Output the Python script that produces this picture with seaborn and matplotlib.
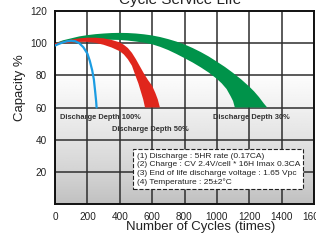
import numpy as np
import matplotlib
matplotlib.use("Agg")
import matplotlib.pyplot as plt
import seaborn as sns

# curve edges (cycles, capacity %)
green_x_outer = [0, 50, 100, 150, 200, 250, 300, 350, 400, 450, 500, 550, 600, 650, 700, 750,
                 800, 850, 900, 950, 1000, 1050, 1100, 1150, 1200, 1230, 1260, 1290, 1311]
green_y_outer = [100, 101.8, 103, 104.2, 105, 105.6, 106, 106.3, 106.4, 106.3, 106, 105.5, 104.8,
                 103.8, 102.5, 101, 99.2, 97, 94.5, 91.7, 88.5, 85.2, 81.5, 77.5, 73, 70, 66.5,
                 62.5, 60]
green_x_inner = [0, 50, 100, 150, 200, 250, 300, 350, 400, 450, 500, 550, 600, 650, 700, 750,
                 800, 850, 900, 950, 1000, 1030, 1060, 1085, 1100, 1111]
green_y_inner = [99, 99.8, 100.5, 101, 101.5, 101.8, 102, 102.1, 102, 101.6, 101, 100.3, 99.3,
                 97.7, 95.7, 93.3, 90.7, 88, 85, 81.7, 77.8, 75, 71.5, 67, 64, 60]

red_x_outer = [0, 50, 100, 150, 200, 250, 300, 350, 400, 425, 450, 475, 500, 525, 550, 575,
               600, 620, 635, 648]
red_y_outer = [100, 101.2, 102.2, 103, 103.4, 103.4, 103, 102, 100.5, 99, 97, 94, 90, 85.5, 81,
               77, 73.5, 69, 65, 60]
red_x_inner = [0, 50, 100, 150, 200, 250, 300, 350, 400, 425, 450, 475, 500, 515, 530, 545, 556]
red_y_inner = [99, 99.8, 100.4, 100.8, 100.8, 100.2, 99, 97.3, 95, 93, 90, 86, 79, 75, 70, 65, 60]

blue_x = [0, 25, 50, 75, 100, 125, 150, 175, 200, 215, 230, 240, 248, 254, 257]
blue_y = [98.5, 99.6, 100.5, 101.2, 101.5, 101.2, 100, 97.5, 93.5, 89, 83, 77.5, 70, 64, 60]

x_ticks = [0, 200, 400, 600, 800, 1000, 1200, 1400, 1600]
y_ticks = [20, 40, 60, 80, 100, 120]

labels = ["Discharge Depth 100%", "Discharge Depth 50%", "Discharge Depth 30%"]
notes = ["(1) Discharge : 5HR rate (0.17CA)",
         "(2) Charge : CV 2.4V/cell * 16H Imax 0.3CA",
         "(3) End of life discharge voltage : 1.65 Vpc",
         "(4) Temperature : 25\u00b12\u00b0C"]

sns.set_style("white")
plt.rcParams['font.family'] = ['Liberation Sans', 'DejaVu Sans']

fig = plt.figure(figsize=(3.16, 2.42), dpi=100)
ax = fig.add_axes([55/316, 38/242, 259/316, 193/242])
ax.set_xlim(0, 1600)
ax.set_ylim(0, 120)

# background gradient, white at top, grey towards the bottom
grad = np.ones((120, 2))
lev = np.linspace(0.0, 1.0, 80) ** 0.8
grad[:80, :] = np.column_stack([lev, lev]) * 0.24 + 0.75
ax.imshow(grad, extent=[0, 1600, 0, 120], origin='lower', aspect='auto',
          cmap='gray', vmin=0, vmax=1, zorder=0)

for xv in x_ticks:
    ax.axvline(xv, color='#2e2e2e', lw=1.1, zorder=1)
for yv in [20, 40, 60, 80, 100]:
    ax.axhline(yv, color='#2e2e2e', lw=1.1, zorder=1)

ax.fill(green_x_outer + green_x_inner[::-1], green_y_outer + green_y_inner[::-1],
        color='#00934a', lw=0, zorder=2)
ax.fill(red_x_outer + red_x_inner[::-1], red_y_outer + red_y_inner[::-1],
        color='#e0261c', lw=0, zorder=3)
sns.lineplot(x=blue_x, y=blue_y, ax=ax, color='#1b9ce2', lw=1.6, sort=False, zorder=4)

ax.text(30, 54, labels[0], fontsize=5.4, fontweight='bold', color='#333333', va='center', zorder=5)
ax.text(355, 46.5, labels[1], fontsize=5.4, fontweight='bold', color='#333333', va='center', zorder=5)
ax.text(975, 54, labels[2], fontsize=5.4, fontweight='bold', color='#333333', va='center', zorder=5)

ax.text(505, 21.5, "\n".join(notes), fontsize=6.0, color='#222222', va='center', ha='left',
        linespacing=1.3, zorder=6,
        bbox=dict(boxstyle='square,pad=0.4', fc='white', ec='#222222', ls='--', lw=0.8))

ax.set_xticks(x_ticks)
ax.set_yticks(y_ticks)
ax.tick_params(axis='both', length=0, labelsize=7.2, labelcolor='#222222')
ax.tick_params(axis='x', pad=6)
ax.tick_params(axis='y', pad=6)
for s in ax.spines.values():
    s.set_color('#111111')
    s.set_linewidth(1.4)

fig.text(20/316, 1 - 88/242, "Capacity %", rotation=90, ha='center', va='center',
         fontsize=9.5, color='#222222')
fig.text(201/316, 1 - 227/242, "Number of Cycles (times)", ha='center', va='center',
         fontsize=9.5, color='#222222')
fig.text(180/316, 1 - 4.2/242, "Cycle Service Life", ha='center', va='baseline',
         fontsize=11, color='#222222')

fig.savefig("out.png", dpi=100)
